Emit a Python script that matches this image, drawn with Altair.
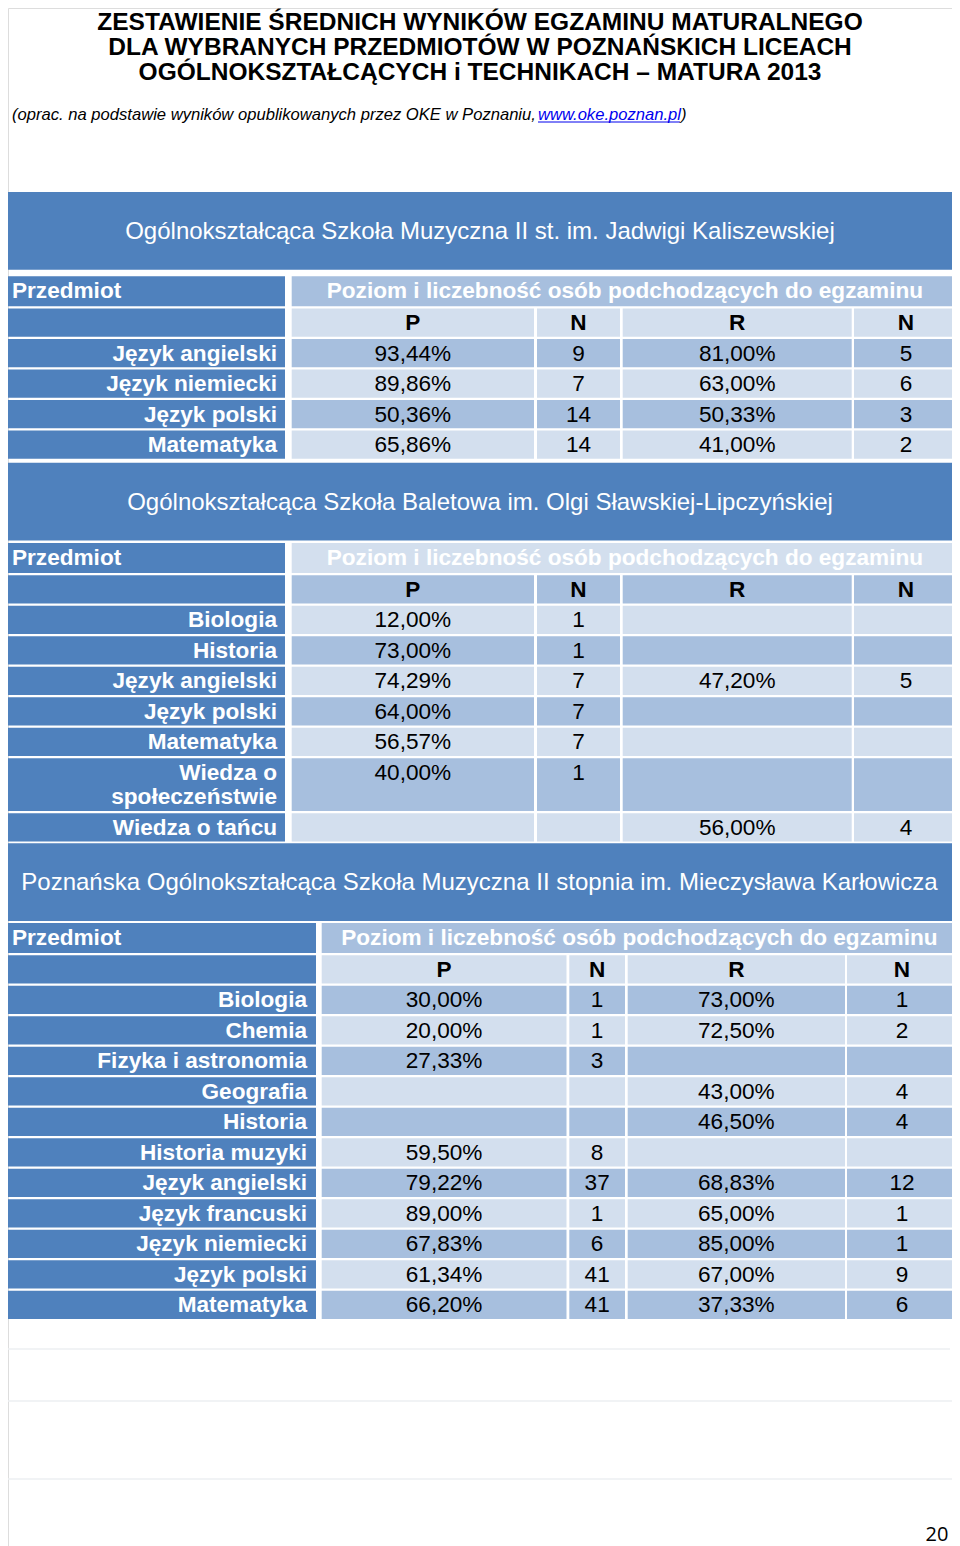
import altair as alt
import pandas as pd

# ---------------- content ----------------
title_lines = [
    "ZESTAWIENIE ŚREDNICH WYNIKÓW EGZAMINU MATURALNEGO",
    "DLA WYBRANYCH PRZEDMIOTÓW W POZNAŃSKICH LICEACH",
    "OGÓLNOKSZTAŁCĄCYCH i TECHNIKACH – MATURA 2013",
]
note_prefix = "(oprac. na podstawie wyników opublikowanych przez OKE w Poznaniu,"
note_link = "www.oke.poznan.pl"
note_suffix = ")"
page_number = "20"

subject_header = "Przedmiot"
level_header = "Poziom i liczebność osób podchodzących do egzaminu"
column_headers = ["P", "N", "R", "N"]

school_names = [
    "Ogólnokształcąca Szkoła Muzyczna II st. im. Jadwigi Kaliszewskiej",
    "Ogólnokształcąca Szkoła Baletowa im. Olgi Sławskiej-Lipczyńskiej",
    "Poznańska Ogólnokształcąca Szkoła Muzyczna II stopnia im. Mieczysława Karłowicza",
]

s1_subjects = ["Język angielski", "Język niemiecki", "Język polski", "Matematyka"]
s1_p_score = [93.44, 89.86, 50.36, 65.86]
s1_p_count = [9, 7, 14, 14]
s1_r_score = [81.00, 63.00, 50.33, 41.00]
s1_r_count = [5, 6, 3, 2]

s2_subjects = ["Biologia", "Historia", "Język angielski", "Język polski",
               "Matematyka", "Wiedza o społeczeństwie", "Wiedza o tańcu"]
s2_p_score = [12.00, 73.00, 74.29, 64.00, 56.57, 40.00, None]
s2_p_count = [1, 1, 7, 7, 7, 1, None]
s2_r_score = [None, None, 47.20, None, None, None, 56.00]
s2_r_count = [None, None, 5, None, None, None, 4]

s3_subjects = ["Biologia", "Chemia", "Fizyka i astronomia", "Geografia", "Historia",
               "Historia muzyki", "Język angielski", "Język francuski", "Język niemiecki",
               "Język polski", "Matematyka"]
s3_p_score = [30.00, 20.00, 27.33, None, None, 59.50, 79.22, 89.00, 67.83, 61.34, 66.20]
s3_p_count = [1, 1, 3, None, None, 8, 37, 1, 6, 41, 41]
s3_r_score = [73.00, 72.50, None, 43.00, 46.50, None, 68.83, 65.00, 85.00, 67.00, 37.33]
s3_r_count = [1, 2, None, 4, 4, None, 12, 1, 1, 9, 6]

tables = [
    (school_names[0], s1_subjects, s1_p_score, s1_p_count, s1_r_score, s1_r_count),
    (school_names[1], s2_subjects, s2_p_score, s2_p_count, s2_r_score, s2_r_count),
    (school_names[2], s3_subjects, s3_p_score, s3_p_count, s3_r_score, s3_r_count),
]

# ---------------- layout & style ----------------
PAGE_W, PAGE_H, MARGIN = 960, 1546, 8
W, H = PAGE_W - 2 * MARGIN, PAGE_H - MARGIN
DARK, MID, LIGHT = "#4F81BD", "#A7BFDE", "#D3DFEE"
FONT = "Liberation Sans"
CELL_FS = 22.6

COLS_NARROW = [(2, 285), (291.7, 534), (537, 620), (622.7, 851.7), (854, 958)]
COLS_WIDE = [(2, 316), (321.7, 566.5), (569.3, 625), (627.7, 845), (847, 957)]
TABLE_COLS = [COLS_NARROW, COLS_NARROW, COLS_WIDE]
TABLE_TOPS = [192, 462.7, 843.3]
HEADER_H = 77.7
HEADER_GAP = [6.5, 2.5, 2.0]
FIRST_ROW_H, FIRST_ROW_PITCH = 30, 32.3
ROW_H, ROW_PITCH = 28.3, 30.5
LINE_EXTRA = 24.5
TEXT_DY = 14.6
BAND_START = [0, 1, 0]       # 0 -> MID first, 1 -> LIGHT first
WRAP_LIMIT = [20, 20, 26]
LABEL_PAD = [8, 8, 9]
TITLE_Y, TITLE_STEP = 23.0, 25.0
NOTE_Y, NOTE_X, LINK_X, LINK_END = 114.5, 12, 538, 681
FAINT_LINES = [(6, 950, 1349), (0, 956, 1401), (0, 960, 1479)]
PAGE_NUM_X, PAGE_NUM_Y = 937, 1535


def fmt_pct(v):
    return "" if v is None else f"{v:.2f}".replace(".", ",") + "%"


def fmt_int(v):
    return "" if v is None else str(int(v))


def wrap(label, limit):
    lines, cur = [], ""
    for w in label.split(" "):
        cand = (cur + " " + w).strip()
        if len(cand) > limit and cur:
            lines.append(cur)
            cur = w
        else:
            cur = cand
    lines.append(cur)
    return lines


def band(start, k):
    return [MID, LIGHT][(start + k) % 2]


rects = []
texts = {k: [] for k in ["title", "note", "link", "school", "subj_head",
                         "level_head", "col_head", "label", "value", "pagenum"]}

for i, line in enumerate(title_lines):
    texts["title"].append(dict(x=PAGE_W / 2, y=TITLE_Y + i * TITLE_STEP, text=line))
texts["note"].append(dict(x=NOTE_X, y=NOTE_Y, text=note_prefix))
texts["link"].append(dict(x=LINK_X, y=NOTE_Y, text=note_link))
texts["note"].append(dict(x=LINK_END, y=NOTE_Y, text=note_suffix))
texts["pagenum"].append(dict(x=PAGE_NUM_X, y=PAGE_NUM_Y, text=page_number))

for t, (name, subjects, ps, pn, rs, rn) in enumerate(tables):
    cols = TABLE_COLS[t]
    left, right = cols[0][0], cols[-1][1]
    top = TABLE_TOPS[t]
    rects.append(dict(x=left, x2=right, y=top, y2=top + HEADER_H, fill=DARK))
    texts["school"].append(dict(x=(left + right) / 2, y=top + HEADER_H / 2 + 1, text=name))
    k = 0
    y = top + HEADER_H + HEADER_GAP[t]
    # "Przedmiot" row
    rects.append(dict(x=cols[0][0], x2=cols[0][1], y=y, y2=y + FIRST_ROW_H, fill=DARK))
    rects.append(dict(x=cols[1][0], x2=cols[4][1], y=y, y2=y + FIRST_ROW_H, fill=band(BAND_START[t], k)))
    texts["subj_head"].append(dict(x=cols[0][0] + 10, y=y + FIRST_ROW_H / 2, text=subject_header))
    texts["level_head"].append(dict(x=(cols[1][0] + cols[4][1]) / 2, y=y + FIRST_ROW_H / 2, text=level_header))
    y += FIRST_ROW_PITCH
    k += 1
    # column header row
    rects.append(dict(x=cols[0][0], x2=cols[0][1], y=y, y2=y + ROW_H, fill=DARK))
    for c, hdr in enumerate(column_headers):
        x0, x1 = cols[c + 1]
        rects.append(dict(x=x0, x2=x1, y=y, y2=y + ROW_H, fill=band(BAND_START[t], k)))
        texts["col_head"].append(dict(x=(x0 + x1) / 2, y=y + TEXT_DY, text=hdr))
    y += ROW_PITCH
    k += 1
    # data rows
    for j, subj in enumerate(subjects):
        lines = wrap(subj, WRAP_LIMIT[t])
        h = ROW_H + (len(lines) - 1) * LINE_EXTRA
        rects.append(dict(x=cols[0][0], x2=cols[0][1], y=y, y2=y + h, fill=DARK))
        for li, ln in enumerate(lines):
            texts["label"].append(dict(x=cols[0][1] - LABEL_PAD[t], y=y + TEXT_DY + li * LINE_EXTRA, text=ln))
        vals = [fmt_pct(ps[j]), fmt_int(pn[j]), fmt_pct(rs[j]), fmt_int(rn[j])]
        for c, v in enumerate(vals):
            x0, x1 = cols[c + 1]
            rects.append(dict(x=x0, x2=x1, y=y, y2=y + h, fill=band(BAND_START[t], k)))
            if v:
                texts["value"].append(dict(x=(x0 + x1) / 2, y=y + TEXT_DY, text=v))
        y += ROW_PITCH + (len(lines) - 1) * LINE_EXTRA
        k += 1

xs = alt.Scale(domain=[MARGIN, MARGIN + W], range=[0, W], zero=False, nice=False)
ys = alt.Scale(domain=[MARGIN + H, MARGIN], zero=False, nice=False)

rect_layer = alt.Chart(pd.DataFrame(rects)).mark_rect(strokeWidth=0).encode(
    x=alt.X("x:Q", scale=xs, axis=None),
    x2="x2:Q",
    y=alt.Y("y:Q", scale=ys, axis=None),
    y2="y2:Q",
    color=alt.Color("fill:N", scale=None),
)

faint = pd.DataFrame([dict(x=a, x2=b, y=c) for a, b, c in FAINT_LINES])
faint_layer = alt.Chart(faint).mark_rule(color="#EDEFF2", strokeWidth=1.5).encode(
    x=alt.X("x:Q", scale=xs, axis=None), x2="x2:Q", y=alt.Y("y:Q", scale=ys, axis=None)
)

underline = pd.DataFrame([dict(x=LINK_X, x2=LINK_END - 1, y=NOTE_Y + 7.5)])
underline_layer = alt.Chart(underline).mark_rule(color="#0000EE", strokeWidth=1).encode(
    x=alt.X("x:Q", scale=xs, axis=None), x2="x2:Q", y=alt.Y("y:Q", scale=ys, axis=None)
)


def text_layer(key, **props):
    base = dict(baseline="middle", font=FONT, fontSize=CELL_FS, color="#000000")
    base.update(props)
    return alt.Chart(pd.DataFrame(texts[key])).mark_text(**base).encode(
        x=alt.X("x:Q", scale=xs, axis=None),
        y=alt.Y("y:Q", scale=ys, axis=None),
        text="text:N",
    )


layers = [
    rect_layer,
    faint_layer,
    underline_layer,
    text_layer("title", fontSize=24.5, fontWeight="bold", align="center"),
    text_layer("note", fontSize=16.6, fontStyle="italic", align="left"),
    text_layer("link", fontSize=16.6, fontStyle="italic", align="left", color="#0000EE"),
    text_layer("school", fontSize=24, align="center", color="#FFFFFF"),
    text_layer("subj_head", fontWeight="bold", align="left", color="#FFFFFF"),
    text_layer("level_head", fontWeight="bold", align="center", color="#FFFFFF"),
    text_layer("col_head", fontWeight="bold", align="center"),
    text_layer("label", fontWeight="bold", align="right", color="#FFFFFF"),
    text_layer("value", align="center"),
    text_layer("pagenum", font="Open Sans", fontSize=20, align="center"),
]

chart = alt.layer(*layers).properties(
    width=W, height=H, padding=0, autosize=alt.AutoSizeParams(type="none")
).configure_view(stroke="transparent", strokeWidth=0).configure(background="transparent")

chart.save("out.html", embed_options={"renderer": "svg", "actions": False})
